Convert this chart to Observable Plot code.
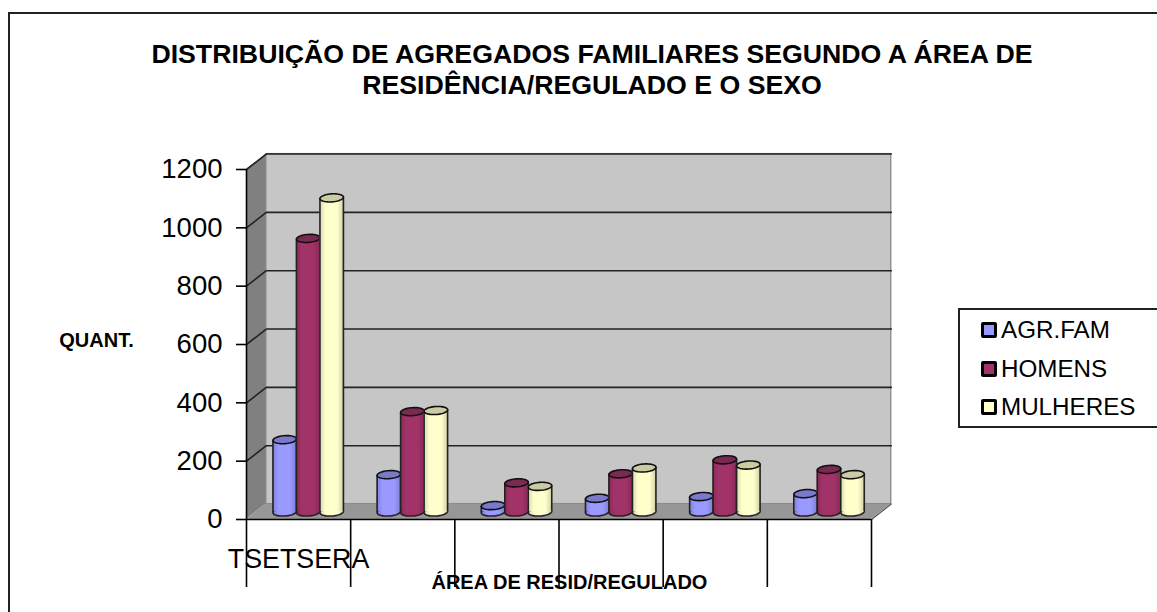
<!DOCTYPE html>
<html lang="pt">
<head>
<meta charset="utf-8">
<script src="https://cdn.jsdelivr.net/npm/d3@7"></script>
<script src="https://cdn.jsdelivr.net/npm/@observablehq/plot@0.6"></script>
<style>
  html, body { margin: 0; padding: 0; background: #fff; }
  body { width: 1157px; height: 612px; overflow: hidden; position: relative; font-family: "Liberation Sans", Arial, sans-serif; color: #000; }
  #frame { position: absolute; left: 8px; top: 12px; width: 1160px; height: 620px; border: 2px solid #222; box-sizing: border-box; }
  #title { position: absolute; left: 0; top: 39px; width: 1184px; text-align: center; font-weight: bold; font-size: 26.7px; line-height: 31px; }
  #chart { position: absolute; left: 0; top: 140px; }
  #legend { position: absolute; left: 958px; top: 308px; width: 210px; height: 120px; border: 2px solid #222; box-sizing: border-box; }
  .row { position: absolute; left: 21px; height: 30px; display: flex; align-items: center; font-size: 24.2px; }
  .key { width: 10px; height: 10px; border: 3px solid #000; border-radius: 2px; margin-right: 4px; }
</style>
</head>
<body>
<div id="frame"></div>
<div id="title">DISTRIBUIÇÃO DE AGREGADOS FAMILIARES SEGUNDO A ÁREA DE<br>RESIDÊNCIA/REGULADO E O SEXO</div>
<div id="chart"></div>
<div id="legend"></div>
<script>
const categories = ["TSETSERA", "", "", "", "", ""];
const seriesNames = ["AGR.FAM", "HOMENS", "MULHERES"];
const agrFam = [248, 128, 22, 47, 53, 63];
const homens = [938, 344, 100, 131, 179, 146];
const mulheres = [1077, 348, 88, 151, 161, 128];
const yTicks = [0, 200, 400, 600, 800, 1000, 1200];
const colors = ["#9999FF", "#A23368", "#FFFFCC"];
const tops = ["#7A7ACC", "#7A2952", "#CCCCA3"];
const values = [agrFam, homens, mulheres];

const depthX = 0.19, depthY = 53;          // oblique depth of the box, in scale units
const barW = 0.2255, barOff = 0.158;       // bar layout inside one category, in x units
const n = categories.length;
const barDx = 10, barDy = -7.5;            // bars stand in the middle of the floor
const rx = 11.75, ry = 4, tilt = -4 * Math.PI / 180;

const ellipse = {
  draw(ctx) {
    for (let i = 0; i < 48; ++i) {
      const t = i / 48 * 2 * Math.PI;
      const a = rx * Math.cos(t), b = ry * Math.sin(t);
      const px = a * Math.cos(tilt) - b * Math.sin(tilt);
      const py = a * Math.sin(tilt) + b * Math.cos(tilt);
      i ? ctx.lineTo(px, py) : ctx.moveTo(px, py);
    }
    ctx.closePath();
  }
};

const gridRows = yTicks.slice(1).flatMap(v => [
  {v, x: 0, y: v},
  {v, x: depthX, y: v + depthY},
  {v, x: n + depthX, y: v + depthY}
]);

const barMarks = seriesNames.flatMap((name, s) => {
  const rows = values[s].map((v, c) => ({
    v,
    x1: c + barOff + s * barW,
    x2: c + barOff + (s + 1) * barW,
    xc: c + barOff + (s + 0.5) * barW
  }));
  const shared = {dx: barDx, dy: barDy};
  return [
    Plot.dot(rows, {x: "xc", y: () => 0, r: 10, symbol: ellipse, fill: `url(#cyl${s})`, stroke: "#222", strokeWidth: 1.6, ...shared}),
    Plot.rect(rows, {x1: "x1", x2: "x2", y1: () => 0, y2: "v", fill: `url(#cyl${s})`, ...shared}),
    Plot.ruleX(rows, {x: "x1", y1: () => 0, y2: "v", stroke: "#222", strokeWidth: 1.6, dx: barDx, dy: barDy + 0.8}),
    Plot.ruleX(rows, {x: "x2", y1: () => 0, y2: "v", stroke: "#222", strokeWidth: 1.6, dx: barDx, dy: barDy - 0.8}),
    Plot.dot(rows, {x: "xc", y: "v", r: 10, symbol: ellipse, fill: tops[s], stroke: "#111", strokeWidth: 1.6, ...shared})
  ];
});

const plot = Plot.plot({
  width: 940,
  height: 460,
  marginLeft: 246,
  marginRight: 69,
  marginTop: 29,
  marginBottom: 81,
  style: {fontFamily: "'Liberation Sans', Arial, sans-serif", overflow: "visible", background: "transparent", color: "#000"},
  x: {type: "linear", domain: [0, n]},
  y: {type: "linear", domain: [0, 1200]},
  marks: [
    // side wall
    Plot.areaY([{x: 0, a: 0, b: 1200}, {x: depthX, a: depthY, b: 1200 + depthY}], {x: "x", y1: "a", y2: "b", fill: "#808080"}),
    // back wall
    Plot.rect([{}], {x1: () => depthX, x2: () => n + depthX, y1: () => depthY, y2: () => 1200 + depthY, fill: "#C6C6C6", stroke: "#808080", strokeWidth: 1.2}),
    // floor
    Plot.areaX([{y: 0, a: 0, b: n}, {y: depthY, a: depthX, b: n + depthX}], {y: "y", x1: "a", x2: "b", fill: "#979797"}),
    Plot.line([{x: n, y: 0}, {x: n + depthX, y: depthY}], {x: "x", y: "y", stroke: "#555", strokeWidth: 1.2}),
    // gridlines, folded over the side wall
    Plot.line(gridRows, {x: "x", y: "y", z: "v", stroke: "#222", strokeWidth: 1.6}),
    Plot.ruleY([0], {x1: 0, x2: n, stroke: "#000", strokeWidth: 1.6}),
    Plot.ruleX([0], {y1: 0, y2: 1200, stroke: "#000", strokeWidth: 1.6}),
    Plot.axisY({
      ticks: yTicks, tickSize: 10, tickPadding: 14, fontSize: 27.5, label: null,
      tickFormat: d => String(d), stroke: "#000", strokeWidth: 1.6, color: "#000"
    }),
    Plot.axisX({
      ticks: d3.range(n + 1), tickSize: 68, tickFormat: () => "", label: null,
      stroke: "#000", strokeWidth: 1.6
    }),
    ...barMarks,
    Plot.text(categories.map((c, i) => ({c, x: i + 0.5})), {x: "x", y: () => -138, text: "c", fontSize: 26.8, fill: "#000"}),
    Plot.text(["ÁREA DE RESID/REGULADO"], {x: () => 3.1, y: () => -216, fontSize: 20, fontWeight: "bold", fill: "#000"}),
    Plot.text(["QUANT."], {x: () => -1.44, y: () => 614, fontSize: 20, fontWeight: "bold", fill: "#000"})
  ]
});

// cylinder shading gradients, one per series
const ns = "http://www.w3.org/2000/svg";
const defs = document.createElementNS(ns, "defs");
colors.forEach((col, s) => {
  const g = document.createElementNS(ns, "linearGradient");
  g.setAttribute("id", `cyl${s}`);
  const dark = d3.color(col).darker(0.5).formatHex();
  [[0, dark], [0.25, col], [0.75, col], [1, dark]].forEach(([o, c]) => {
    const st = document.createElementNS(ns, "stop");
    st.setAttribute("offset", o);
    st.setAttribute("stop-color", c);
    g.appendChild(st);
  });
  defs.appendChild(g);
});
plot.insertBefore(defs, plot.firstChild);
document.getElementById("chart").appendChild(plot);

// legend
const legend = document.getElementById("legend");
seriesNames.forEach((name, s) => {
  const row = document.createElement("div");
  row.className = "row";
  row.style.top = (5 + s * 38.5) + "px";
  const key = document.createElement("span");
  key.className = "key";
  key.style.background = colors[s];
  const label = document.createElement("span");
  label.textContent = name;
  row.append(key, label);
  legend.appendChild(row);
});
</script>
</body>
</html>
